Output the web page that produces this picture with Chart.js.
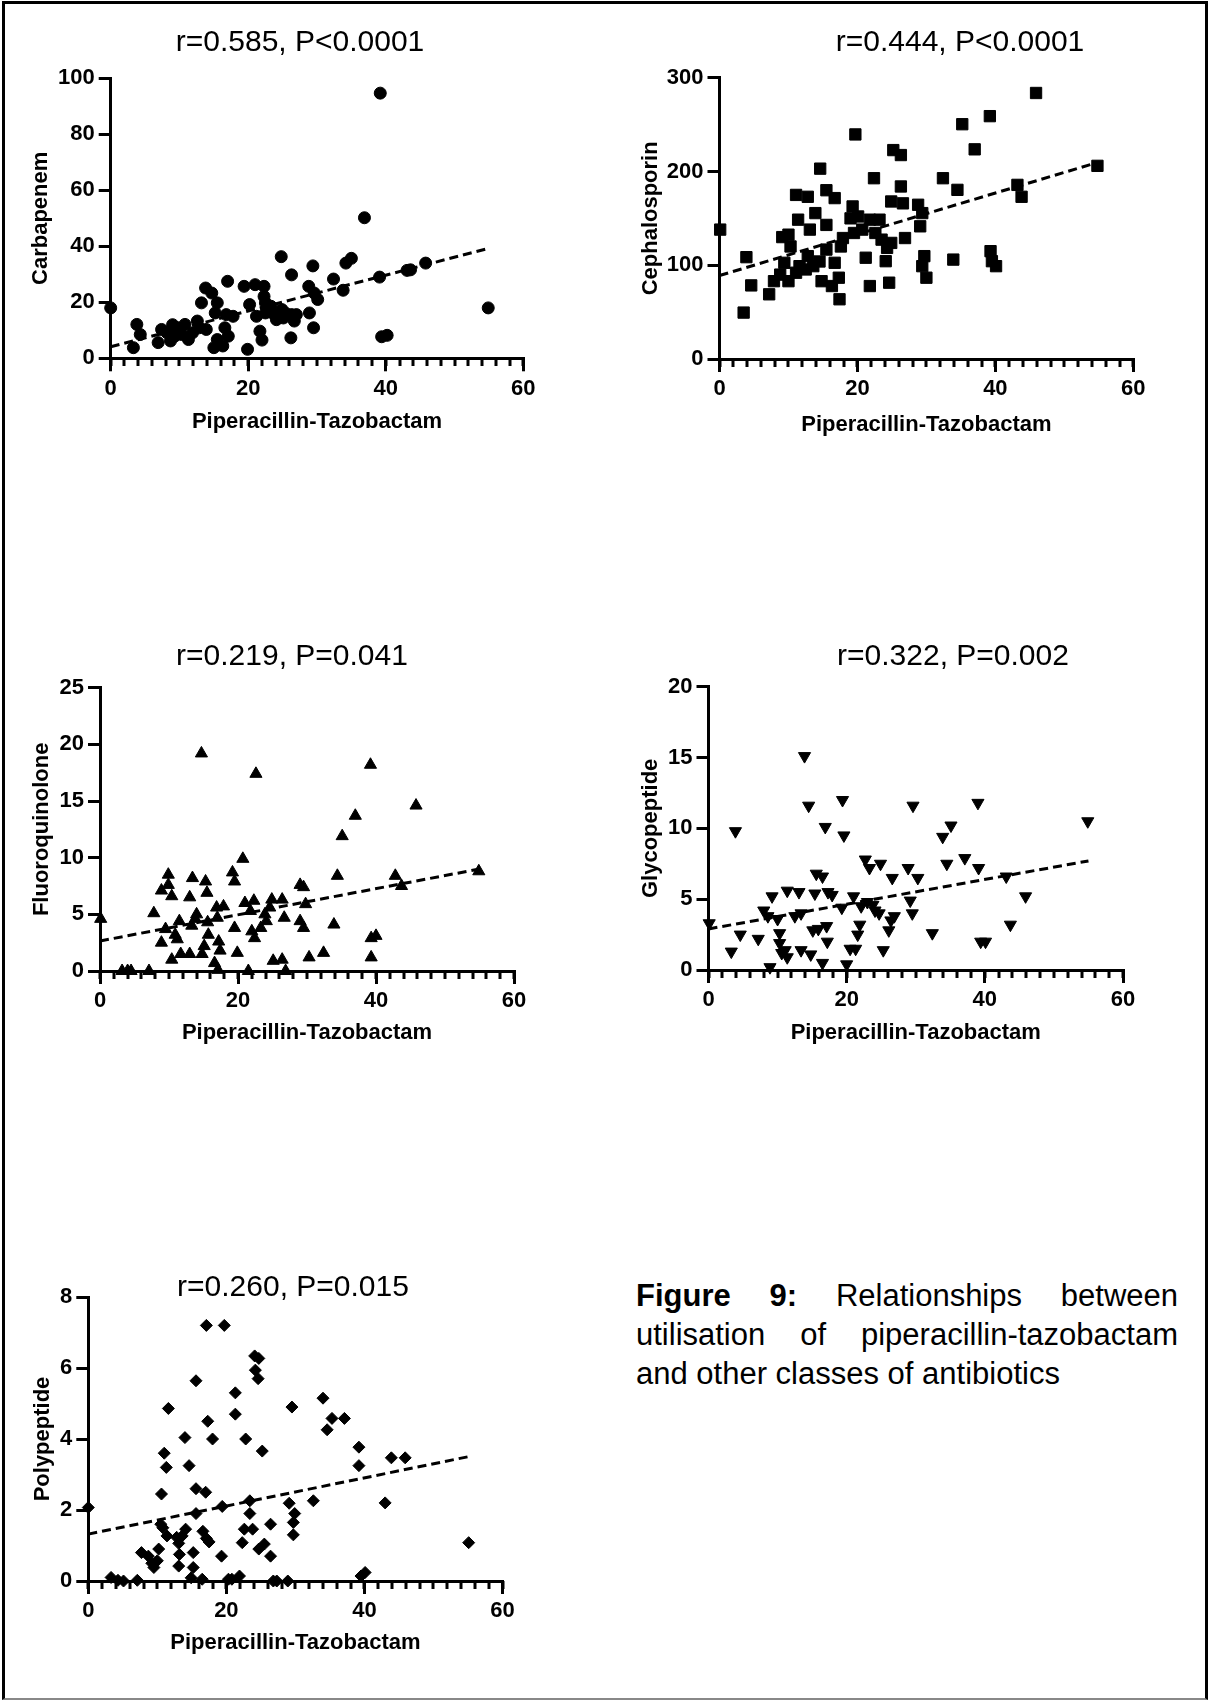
<!DOCTYPE html>
<html>
<head>
<meta charset="utf-8">
<script src="https://cdn.jsdelivr.net/npm/chart.js@4.4.0/dist/chart.umd.min.js"></script>
<style>
  body { margin: 0; background: #fff; width: 1212px; height: 1701px; position: relative; overflow: hidden;
         font-family: 'Liberation Sans', Arial, sans-serif; }
  #frame { position: absolute; left: 2px; top: 1px; width: 1200px; height: 1694px;
           border: 3px solid #000; border-bottom: 2px solid #888; }
  canvas { position: absolute; }
  #caption { position: absolute; left: 636px; top: 1276px; width: 542px; font-size: 31px;
             line-height: 39px; text-align: justify; color: #000; }
</style>
</head>
<body>
<div id="frame"></div>
<canvas id="c1"></canvas>
<canvas id="c2"></canvas>
<canvas id="c3"></canvas>
<canvas id="c4"></canvas>
<canvas id="c5"></canvas>
<div id="caption"><b>Figure 9:</b> Relationships between utilisation of piperacillin-tazobactam and other classes of antibiotics</div>

<script>
// --- data (x = piperacillin-tazobactam use) ---
var xLabel = 'Piperacillin-Tazobactam';
var trendX = [0, 55];
var minorStep = 2;

var carbPip = [0, 39.2, 36.9, 54.9, 24.8, 26.3, 29.4, 32.4, 34.2, 35.0, 39.1, 33.8, 43.1, 43.6, 45.8, 39.4, 40.2,
  28.8, 29.6, 30.1, 28.9, 29.5, 26.2, 26.3, 26.7, 24.9, 23.3, 23.8, 22.5, 22.3, 21.0, 22.3, 20.2, 21.2, 21.7, 22.0,
  19.4, 19.9, 17.0, 17.8, 16.8, 15.5, 14.7, 13.8, 13.2, 15.2, 16.6, 17.1, 15.0, 16.3, 15.5, 13.9, 12.9, 11.9, 10.8,
  11.3, 9.8, 9.3, 9.0, 8.2, 7.4, 6.9, 8.7, 3.8, 4.3, 3.3, 12.6, 10.3, 24.1, 25.4, 22.5, 23.0, 25.1, 27.0];
var carbVal = [18.0, 94.7, 50.2, 18.0, 36.3, 29.8, 33.0, 28.3, 34.0, 35.7, 29.0, 24.3, 31.4, 31.6, 34.0, 7.7, 8.2,
  25.7, 23.3, 21.0, 16.2, 10.9, 7.3, 15.6, 13.3, 17.4, 18.6, 15.6, 19.8, 22.1, 26.3, 25.7, 19.2, 15.0, 9.7, 6.5,
  25.7, 3.2, 27.5, 15.0, 15.6, 19.8, 23.3, 25.1, 19.8, 16.2, 10.9, 7.9, 3.8, 4.4, 6.7, 10.3, 10.9, 9.1, 12.1,
  6.7, 10.9, 7.9, 12.0, 9.1, 10.3, 5.6, 6.2, 12.1, 8.5, 3.8, 13.3, 8.5, 13.8, 16.2, 16.2, 16.8, 14.4, 15.6];
var carbTrend = [4.1, 39.3];

var cephPip = [0.1, 3.5, 3.9, 4.6, 7.2, 7.9, 9.1, 10.0, 9.4, 10.3, 8.8, 10.0, 11.1, 11.4, 11.6, 11.1, 12.8, 13.1,
  12.8, 13.9, 13.6, 14.5, 12.5, 14.6, 15.5, 15.5, 16.7, 14.8, 15.5, 16.3, 16.7, 17.3, 17.4, 17.6, 17.9, 19.7, 19.3,
  20.1, 19.5, 20.7, 21.2, 21.8, 22.4, 21.8, 22.6, 23.2, 23.5, 24.3, 24.1, 24.6, 24.9, 25.2, 26.3, 24.9, 26.3, 26.6,
  26.9, 28.8, 29.1, 29.4, 29.7, 29.4, 30.0, 32.4, 33.9, 34.5, 35.2, 37.0, 39.2, 39.3, 39.5, 40.1, 43.2, 43.8, 45.9,
  54.8, 19.0];
var cephVal = [138, 49.5, 108.6, 78.5, 69, 83, 130, 132.6, 102.6, 120, 90, 83, 175, 148.6, 99, 92, 173, 138,
  109.7, 155.6, 99, 104, 95.5, 203, 180, 143, 171.6, 83, 116.7, 77.8, 102.6, 86.7, 63.7, 120, 129, 239.5, 162.7,
  152, 134.4, 138, 108, 77.8, 192.8, 148.6, 134.4, 148.6, 127.3, 118.5, 104.3, 81.4, 123.8, 222.8, 217.5, 168, 184, 166,
  129, 164.5, 141.5, 155.6, 109.7, 99, 86.7, 192.8, 106, 180.4, 250.4, 223.6, 259, 115, 104.3, 99, 185.7, 173, 283.7,
  206, 150];
var cephTrend = [89, 210];

var fluoPip = [0.1, 3.2, 4.0, 4.5, 7.1, 7.8, 8.9, 8.9, 9.9, 9.9, 10.4, 9.5, 10.4, 10.9, 11.2, 11.5, 11.7, 13.0, 13.0,
  13.4, 13.3, 14.0, 13.8, 14.7, 14.8, 15.1, 15.3, 15.5, 15.6, 15.7, 16.6, 17.1, 16.9, 17.9, 17.2, 17.4, 17.0, 19.2,
  19.5, 19.5, 19.9, 20.7, 21.0, 21.5, 21.8, 22.0, 22.4, 22.6, 22.3, 23.3, 23.9, 24.1, 24.6, 24.9, 25.1, 26.4, 26.4,
  26.7, 26.9, 29.0, 29.5, 29.0, 29.5, 29.8, 30.3, 32.4, 33.9, 34.4, 35.1, 37.0, 39.2, 39.3, 39.3, 40.0, 42.8, 43.7,
  45.8, 54.9];
var fluoVal = [4.6, 0, 0, 0, 0, 5.1, 7.1, 2.5, 8.5, 7.6, 6.6, 3.7, 1.0, 3.2, 2.8, 4.4, 1.5, 1.5, 6.5,
  8.2, 4.0, 5.0, 4.6, 19.2, 1.5, 2.2, 7.9, 6.9, 4.3, 3.2, 0.7, 0.1, 5.6, 5.7, 2.6, 1.8, 4.7, 8.7,
  7.9, 3.8, 1.6, 9.9, 6.0, 0, 5.3, 3.5, 2.9, 17.4, 6.2, 3.8, 5.0, 4.4, 5.6, 6.3, 0.9, 1.0, 6.3,
  4.7, 0, 7.6, 7.4, 4.4, 3.8, 5.9, 1.2, 1.6, 4.1, 8.4, 11.9, 13.7, 18.2, 1.2, 2.9, 3.1, 8.4, 7.5,
  14.6, 8.8];
var fluoTrend = [2.65, 9.0];

var glycPip = [0.1, 3.3, 3.9, 4.6, 7.2, 8.0, 8.9, 9.2, 8.6, 10.0, 10.3, 10.3, 10.6, 11.4, 11.1, 11.4, 13.1, 12.5,
  13.4, 13.4, 13.9, 14.5, 14.8, 15.4, 15.1, 15.9, 15.6, 16.5, 16.5, 16.9, 17.1, 17.2, 17.3, 17.9, 19.4, 19.6, 19.3,
  20.0, 20.5, 21.3, 21.0, 21.6, 21.9, 22.1, 22.7, 23.3, 23.0, 23.8, 24.1, 24.7, 24.9, 25.3, 26.1, 26.4, 26.9, 26.6,
  28.9, 29.2, 29.5, 29.6, 30.3, 32.4, 33.9, 35.1, 34.5, 37.1, 39.0, 39.1, 39.4, 40.1, 43.1, 43.7, 45.9, 54.9];
var glycVal = [3.3, 1.3, 9.8, 2.5, 2.2, 4.2, 0.2, 5.2, 3.8, 3.6, 2.6, 1.9, 1.2, 0.9, 1.4, 5.6, 5.5, 3.8,
  4.0, 1.4, 15.1, 11.6, 1.1, 5.4, 2.8, 2.9, 6.8, 6.6, 0.5, 10.1, 3.1, 2.0, 5.5, 5.3, 12.0, 9.5, 4.4,
  0.4, 1.5, 1.5, 5.2, 2.5, 3.2, 4.5, 7.8, 7.2, 4.8, 4.6, 4.2, 4.0, 7.5, 1.4, 2.8, 3.5, 3.8, 6.5,
  7.2, 4.9, 4.0, 11.6, 6.5, 2.6, 9.4, 10.2, 7.5, 7.9, 11.8, 7.2, 2.0, 2.0, 6.6, 3.2, 5.2, 10.5];
var glycTrend = [2.9, 7.7];

var polyPip = [0, 3.3, 4.3, 5.1, 7.1, 7.7, 8.7, 9.2, 9.5, 10.0, 10.2, 10.5, 10.8, 10.6, 11.0, 11.3, 11.6, 11.4,
  12.8, 13.1, 13.1, 13.2, 13.6, 14.0, 14.1, 14.6, 15.2, 15.2, 14.9, 15.6, 15.6, 15.6, 16.5, 17.0, 16.6, 17.1, 17.5,
  17.1, 17.3, 18.0, 19.4, 19.3, 19.7, 20.3, 20.8, 21.3, 21.3, 21.9, 22.3, 22.8, 22.6, 23.4, 23.4, 23.8, 24.1, 24.2,
  24.7, 24.6, 25.2, 24.7, 25.5, 26.4, 26.4, 26.8, 27.3, 28.9, 29.1, 29.5, 29.7, 29.9, 29.7, 32.6, 34.0, 34.6, 35.3,
  37.1, 39.2, 39.2, 39.5, 40.1, 43.0, 43.9, 45.9, 55.1];
var polyVal = [2.07, 0.1, 0.02, 0, 0.02, 0.8, 0.7, 0.5, 0.38, 0.57, 0.9, 1.6, 1.5, 2.45, 3.6, 3.2, 4.86, 1.27,
  1.23, 1.06, 0.42, 0.75, 1.27, 4.04, 1.46, 3.25, 0.8, 0.38, 0.09, 5.64, 2.6, 1.9, 0.05, 2.5, 1.4, 1.2, 1.1,
  7.2, 4.5, 4.0, 2.1, 0.7, 7.2, 0.05, 0.05, 5.3, 4.7, 0.14, 1.08, 4.0, 1.46, 2.26, 1.9, 1.46, 6.34, 5.94,
  6.27, 5.7, 3.66, 0.9, 1.04, 1.6, 0.7, 0, 0, 0, 2.19, 4.9, 1.65, 1.9, 1.3, 2.26, 5.15, 4.26, 4.58,
  4.58, 3.77, 3.25, 0.14, 0.24, 2.2, 3.47, 3.47, 1.08];
var polyTrend = [1.32, 3.5];

var FONT = "'Liberation Sans', Arial, sans-serif";
var TICK_FONT = "'Liberation Sans Narrow', 'Arial Narrow', 'Liberation Sans', Arial, sans-serif";

// panel title and the short minor ticks under the x axis (placed through the x scale)
var panelExtras = {
    id: 'panelExtras',
    afterDraw: function (chart, args, opts) {
        var ctx = chart.ctx;
        var sx = chart.scales.x;
        var y0 = Math.round(chart.chartArea.bottom);
        ctx.save();
        ctx.fillStyle = '#000';
        for (var v = sx.min; v <= sx.max; v += minorStep) {
            var px = Math.round(sx.getPixelForValue(v));
            ctx.fillRect(px - 1.5, y0, 3, 8);
        }
        ctx.font = '30px ' + FONT;
        ctx.textAlign = 'center';
        ctx.textBaseline = 'middle';
        ctx.fillText(opts.text, opts.x, opts.y);
        ctx.restore();
    }
};

function makePanel(id, g, o) {
    var cv = document.getElementById(id);
    var cl = Math.round(g.yTitleX - 30), ct = Math.round(g.titleY - 40);
    var cr = Math.round(g.right + 60), cb = Math.round(g.xTitleY + 40);
    cv.width = cr - cl;
    cv.height = cb - ct;
    cv.style.left = cl + 'px';
    cv.style.top = ct + 'px';

    var pts = o.xs.map(function (x, i) { return {x: x, y: o.ys[i]}; });
    var line = trendX.map(function (x, i) { return {x: x, y: o.trend[i]}; });
    var tickFont = {family: TICK_FONT, size: 22, weight: 'bold'};
    var axisFont = {family: FONT, size: 22, weight: 'bold'};

    new Chart(cv, {
        type: 'scatter',
        data: {
            datasets: [{
                data: pts,
                pointStyle: o.style,
                pointRotation: o.rotation || 0,
                pointRadius: o.radius,
                pointBackgroundColor: '#000',
                pointBorderColor: '#000',
                pointBorderWidth: 1,
                clip: false
            }, {
                data: line,
                showLine: true,
                pointRadius: 0,
                borderColor: '#000',
                borderWidth: 3,
                borderDash: [9, 5],
                clip: false
            }]
        },
        options: {
            responsive: false,
            animation: false,
            devicePixelRatio: 1,
            layout: {padding: {left: 0, top: g.top - ct, right: cr - g.right, bottom: 0}},
            plugins: {
                legend: {display: false},
                tooltip: {enabled: false},
                panelExtras: {text: o.title, x: g.titleX - cl, y: g.titleY - ct}
            },
            scales: {
                x: {
                    type: 'linear', position: 'bottom', min: 0, max: 60,
                    ticks: {stepSize: 20, font: tickFont, color: '#000', padding: 4, maxRotation: 0},
                    grid: {drawOnChartArea: false, color: '#000', lineWidth: 3, tickLength: 13},
                    border: {color: '#000', width: 3},
                    title: {display: true, text: xLabel, font: axisFont, color: '#000',
                            padding: {top: 0, bottom: (cb - g.xTitleY) - 13.2}},
                    afterFit: function (s) { s.height = cb - g.bottom; }
                },
                y: {
                    type: 'linear', min: 0, max: o.yMax,
                    ticks: {stepSize: o.yStep, font: tickFont, color: '#000', padding: 4},
                    grid: {drawOnChartArea: false, color: '#000', lineWidth: 3, tickLength: 12},
                    border: {color: '#000', width: 3},
                    title: {display: true, text: o.yLabel, font: axisFont, color: '#000',
                            padding: {top: (g.yTitleX - cl) - 13.2, bottom: 0}},
                    afterFit: function (s) { s.width = g.left - cl; }
                }
            }
        },
        plugins: [panelExtras]
    });
}

makePanel('c1', {left: 110.7, right: 523.3, top: 78.3, bottom: 358.3, yTitleX: 41, xTitleY: 422, titleX: 300, titleY: 43},
    {xs: carbPip, ys: carbVal, trend: carbTrend, style: 'circle', radius: 6,
     yMax: 100, yStep: 20, yLabel: 'Carbapenem', title: 'r=0.585, P<0.0001'});
makePanel('c2', {left: 719.5, right: 1133.3, top: 77.7, bottom: 359, yTitleX: 651, xTitleY: 425, titleX: 960, titleY: 43},
    {xs: cephPip, ys: cephVal, trend: cephTrend, style: 'rect', radius: 8,
     yMax: 300, yStep: 100, yLabel: 'Cephalosporin', title: 'r=0.444, P<0.0001'});
makePanel('c3', {left: 100, right: 514, top: 687.7, bottom: 971, yTitleX: 42, xTitleY: 1033, titleX: 292, titleY: 657},
    {xs: fluoPip, ys: fluoVal, trend: fluoTrend, style: 'triangle', radius: 7,
     yMax: 25, yStep: 5, yLabel: 'Fluoroquinolone', title: 'r=0.219, P=0.041'});
makePanel('c4', {left: 708.5, right: 1123, top: 686.7, bottom: 970, yTitleX: 651, xTitleY: 1033, titleX: 953, titleY: 657},
    {xs: glycPip, ys: glycVal, trend: glycTrend, style: 'triangle', rotation: 180, radius: 7,
     yMax: 20, yStep: 5, yLabel: 'Glycopeptide', title: 'r=0.322, P=0.002'});
makePanel('c5', {left: 88.3, right: 502.5, top: 1297, bottom: 1581, yTitleX: 43, xTitleY: 1643, titleX: 293, titleY: 1288},
    {xs: polyPip, ys: polyVal, trend: polyTrend, style: 'rectRot', radius: 6,
     yMax: 8, yStep: 2, yLabel: 'Polypeptide', title: 'r=0.260, P=0.015'});
</script>
</body>
</html>
